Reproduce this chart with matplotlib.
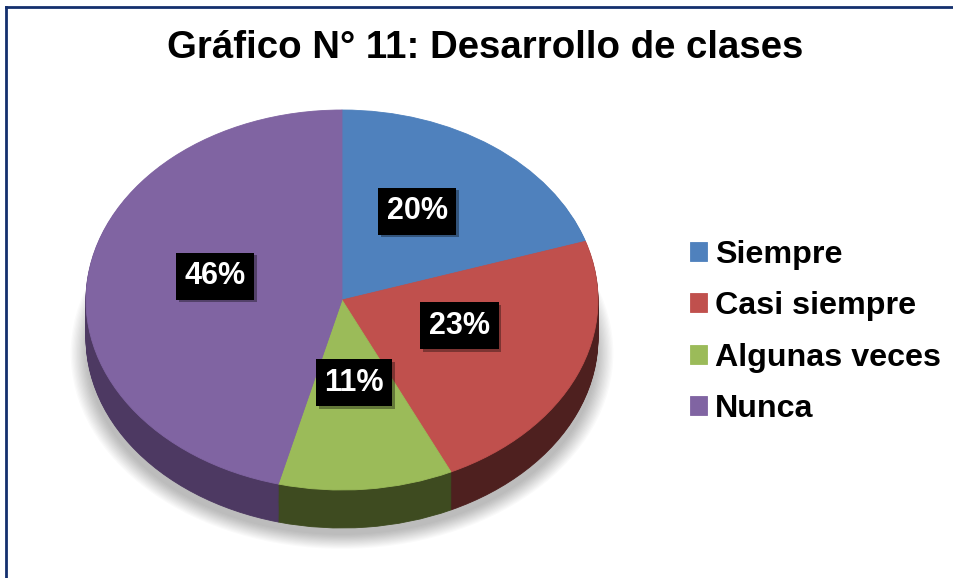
#Load libraries ---------------------------------------------------------------
import matplotlib
matplotlib.use("Agg")
import matplotlib.pyplot as plt
from matplotlib.lines import Line2D
from matplotlib.patches import Ellipse
from matplotlib.transforms import ScaledTranslation
import matplotlib.patheffects as pe

plt.rcParams['font.family'] = ['Liberation Sans', 'DejaVu Sans']

#Data -------------------------------------------------------------------------
categories = ['Siempre', 'Casi siempre', 'Algunas veces', 'Nunca']
percentages = [20, 23, 11, 46]
title = "Gráfico N° 11: Desarrollo de clases"

top_colors = ['#4f81bd', '#c0504d', '#9bbb59', '#8064a2']
side_colors = ['#2c4a70', '#4e201f', '#3e4b20', '#4d3962']

#Figure -----------------------------------------------------------------------
W, H = 954, 578
fig = plt.figure(figsize=(W / 100, H / 100), dpi=100)
fig.patch.set_facecolor('white')

#Pie geometry in pixels (ellipse centre and radii)
cx, cy = 342, 300
rx, ry = 256, 190
depth = 38

ax = fig.add_axes([0, 0, 1, 1])
ax.set_axis_off()

#Soft shadow under the pie
n_sh = 14
for i in range(n_sh):
    f = 1 - i / n_sh
    ax.add_patch(Ellipse((0, -0.28), 2 * (0.99 + 0.07 * f), 2 * (0.95 + 0.08 * f),
                         facecolor='black', edgecolor='none', alpha=0.02, zorder=1))

#Side walls: stacked pies shifted down
n_layers = 40
for k in range(n_layers, 0, -1):
    off = -depth / ry * k / n_layers
    wedges, _ = ax.pie(percentages, colors=side_colors, startangle=90,
                       counterclock=False, center=(0, off), radius=1,
                       wedgeprops=dict(linewidth=0.6, zorder=2))
    for w, c in zip(wedges, side_colors):
        w.set_edgecolor(c)
        w.set_zorder(2)

#Top face
wedges, _, autotexts = ax.pie(percentages, colors=top_colors, startangle=90,
                              counterclock=False, center=(0, 0), radius=1,
                              autopct=lambda p: f'{p:.0f}%', pctdistance=0.5,
                              wedgeprops=dict(linewidth=0.6))
for w, c in zip(wedges, top_colors):
    w.set_edgecolor(c)
    w.set_zorder(3)

lift = ScaledTranslation(0, 12 / 100, fig.dpi_scale_trans)
for t in autotexts:
    t.set_fontsize(22)
    t.set_fontweight('bold')
    t.set_color('white')
    t.set_zorder(5)
    t.set_transform(t.get_transform() + lift)
    t.set_bbox(dict(boxstyle='square,pad=0.28', facecolor='black', edgecolor='none'))
    t.get_bbox_patch().set_path_effects([pe.withSimplePatchShadow(offset=(2, -2), alpha=0.35)])

ax.set_aspect('auto')
ax.set_xlim(-cx / rx, (W - cx) / rx)
ax.set_ylim(-(H - cy) / ry, cy / ry)

#Legend -----------------------------------------------------------------------
leg = fig.legend(wedges, categories, loc='center left',
                 bbox_to_anchor=(690 / W, 1 - 332 / H), frameon=False,
                 prop=dict(size=23.2, weight='bold'), handlelength=0.53,
                 handleheight=0.53, handletextpad=0.25, labelspacing=0.66,
                 borderpad=0, borderaxespad=0)

#Title ------------------------------------------------------------------------
fig.text(485.5 / W, 1 - 58 / H, title, ha='center', va='baseline',
         fontsize=27.6, fontweight='bold', color='black')

#Chart border (top and left visible) ------------------------------------------
fig.add_artist(Line2D([6.5 / W, 1], [1 - 7 / H, 1 - 7 / H], color='#14306e',
                      linewidth=2, transform=fig.transFigure))
fig.add_artist(Line2D([6.5 / W, 6.5 / W], [1 - 7 / H, 0], color='#14306e',
                      linewidth=2, transform=fig.transFigure))

fig.savefig('out.png', dpi=100)
